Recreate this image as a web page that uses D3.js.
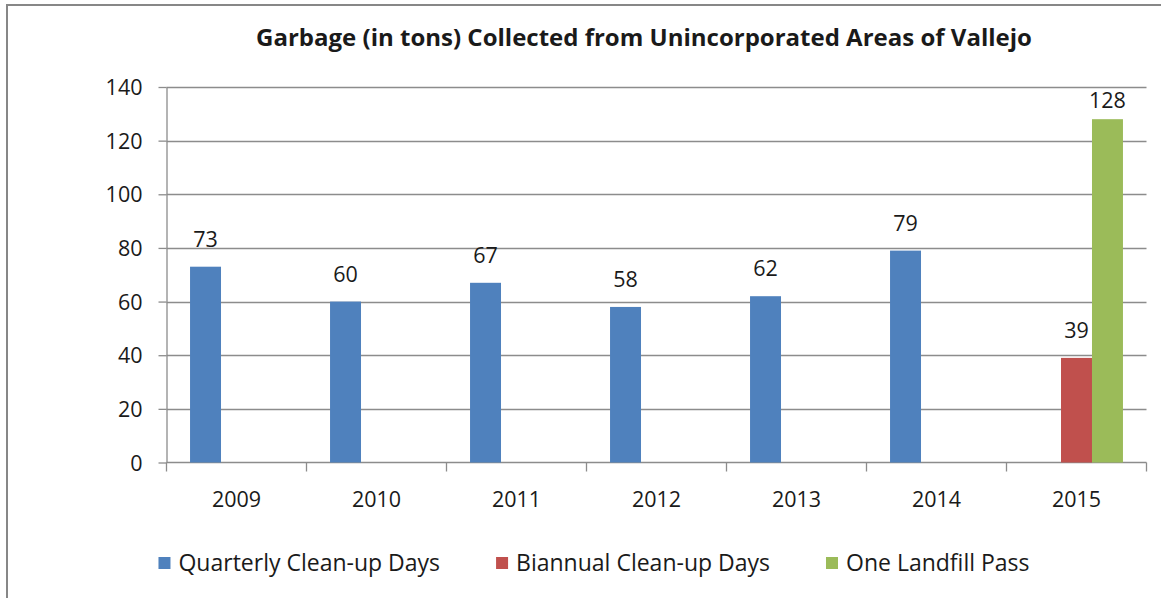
<!DOCTYPE html>
<html>
<head>
<meta charset="utf-8">
<script src="https://cdn.jsdelivr.net/npm/d3@7"></script>
<style>
  body { margin: 0; background: #fff; }
  text { font-family: "Open Sans", sans-serif; fill: #1a1a1a; }
</style>
</head>
<body>
<svg id="chart" width="1161" height="598"></svg>
<script>
const years = ['2009', '2010', '2011', '2012', '2013', '2014', '2015']
const series = ['Quarterly Clean-up Days', 'Biannual Clean-up Days', 'One Landfill Pass']
const quarterly = [73, 60, 67, 58, 62, 79, null]
const biannual = [null, null, null, null, null, null, 39]
const landfill = [null, null, null, null, null, null, 128]
const yTicks = [0, 20, 40, 60, 80, 100, 120, 140]
const colours = ['#4f81bd', '#c0504d', '#9bbb59']

const svg = d3.select('#chart')
const width = 1161
const height = 598
const fontSize = '21.5px'

// outer chart frame (right/bottom edges fall outside the picture)
svg.append('rect')
    .attr('x', 7).attr('y', 5)
    .attr('width', width + 20).attr('height', height + 20)
    .attr('fill', 'none')
    .attr('stroke', '#878787')
    .attr('stroke-width', 2)

const plot = {left: 166.5, right: 1146.5, top: 87, bottom: 462.5}

const x0 = d3.scaleBand().domain(years).range([plot.left, plot.right]).padding(0)
const x1 = d3.scaleBand().domain(series).range([0, x0.bandwidth()]).paddingInner(0).paddingOuter(0.76)
const y = d3.scaleLinear().domain([0, 140]).range([plot.bottom, plot.top])
const colour = d3.scaleOrdinal().domain(series).range(colours)

const rows = years.map((yr, i) => ({
    year: yr,
    values: [quarterly[i], biannual[i], landfill[i]]
        .map((v, j) => ({key: series[j], value: v}))
        .filter(d => d.value != null)
}))

// gridlines
svg.append('g')
    .selectAll('line')
    .data(yTicks.filter(t => t > 0))
    .join('line')
    .attr('x1', plot.left).attr('x2', plot.right)
    .attr('y1', d => Math.round(y(d)) + 0.5).attr('y2', d => Math.round(y(d)) + 0.5)
    .attr('stroke', '#8c8c8c')
    .attr('stroke-width', 1.3)

// y axis
const yAxis = svg.append('g')
    .attr('transform', `translate(${plot.left},0)`)
    .call(d3.axisLeft(y).tickValues(yTicks).tickSize(8).tickPadding(16).tickSizeOuter(0))
yAxis.select('.domain').attr('stroke', '#8c8c8c').attr('stroke-width', 1.3)
yAxis.selectAll('.tick line').attr('stroke', '#8c8c8c').attr('stroke-width', 1.3)
yAxis.selectAll('.tick text')
    .style('font-family', '"Open Sans", sans-serif')
    .style('font-size', fontSize)
    .attr('fill', '#1a1a1a')
    .attr('dy', '0.35em')

// x axis: ticks at category boundaries
const xg = svg.append('g').attr('transform', `translate(0,${plot.bottom})`)
xg.append('line')
    .attr('x1', plot.left).attr('x2', plot.right)
    .attr('stroke', '#8c8c8c').attr('stroke-width', 1.3)
xg.selectAll('line.tk')
    .data(years.map(d => x0(d)).concat([plot.right]))
    .join('line')
    .attr('class', 'tk')
    .attr('x1', d => d).attr('x2', d => d)
    .attr('y1', 0).attr('y2', 9)
    .attr('stroke', '#8c8c8c').attr('stroke-width', 1.3)
xg.selectAll('text')
    .data(years)
    .join('text')
    .attr('x', d => x0(d) + x0.bandwidth() / 2)
    .attr('y', 44)
    .attr('text-anchor', 'middle')
    .style('font-size', fontSize)
    .text(d => d)

// bars
const groups = svg.append('g')
    .selectAll('g')
    .data(rows)
    .join('g')
    .attr('transform', d => `translate(${x0(d.year)},0)`)

groups.selectAll('rect')
    .data(d => d.values)
    .join('rect')
    .attr('x', d => x1(d.key))
    .attr('y', d => y(d.value))
    .attr('width', x1.bandwidth())
    .attr('height', d => y(0) - y(d.value))
    .attr('fill', d => colour(d.key))

// data labels, kept inside the plot area
groups.selectAll('text')
    .data(d => d.values)
    .join('text')
    .attr('x', d => x1(d.key) + x1.bandwidth() / 2)
    .attr('y', d => Math.max(y(d.value) - 20, plot.top + 21))
    .attr('text-anchor', 'middle')
    .style('font-size', fontSize)
    .text(d => d.value)

// title
svg.append('text')
    .attr('x', 644)
    .attr('y', 46)
    .attr('text-anchor', 'middle')
    .style('font-size', '24px')
    .style('font-weight', 'bold')
    .text('Garbage (in tons) Collected from Unincorporated Areas of Vallejo')

// legend
const legend = svg.append('g').attr('transform', 'translate(0,563)')
const items = legend.selectAll('g')
    .data(series)
    .join('g')
items.append('rect')
    .attr('y', -6)
    .attr('width', 12).attr('height', 12)
    .attr('fill', d => colour(d))
items.append('text')
    .attr('x', 20)
    .attr('dy', '0.36em')
    .style('font-size', '23px')
    .text(d => d)

let widths = []
items.each(function () {
    widths.push(20 + d3.select(this).select('text').node().getComputedTextLength())
})
const gap = 56
const total = d3.sum(widths) + gap * (widths.length - 1)
let cx = 594 - total / 2
items.attr('transform', (d, i) => {
    const t = `translate(${cx},0)`
    cx += widths[i] + gap
    return t
})
</script>
</body>
</html>
